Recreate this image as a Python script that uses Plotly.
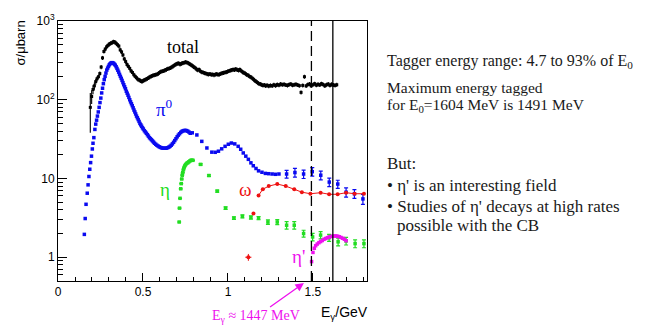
import plotly.graph_objects as go

# ---------------- data (E in GeV, cross sections in microbarn) ----------------
pi0_E = [0.155, 0.160, 0.165, 0.172, 0.177, 0.182, 0.187, 0.192, 0.197, 0.202,
         0.206, 0.211, 0.217, 0.222, 0.227, 0.232, 0.237, 0.242, 0.247, 0.252,
         0.257, 0.262, 0.267, 0.272, 0.277, 0.282, 0.287, 0.292, 0.297, 0.302,
         0.307, 0.312, 0.317, 0.322, 0.327, 0.332, 0.337, 0.342, 0.347, 0.352,
         0.357, 0.362, 0.367, 0.372, 0.377, 0.382, 0.387, 0.392, 0.397, 0.402,
         0.407, 0.412, 0.417, 0.422, 0.427, 0.432, 0.437, 0.442, 0.447, 0.452,
         0.457, 0.462, 0.467, 0.472, 0.477, 0.482, 0.487, 0.492, 0.497, 0.502,
         0.508, 0.514, 0.520, 0.526, 0.532, 0.538, 0.544, 0.550, 0.556, 0.562,
         0.568, 0.575, 0.582, 0.589, 0.596, 0.603, 0.610, 0.617, 0.624, 0.631,
         0.638, 0.645, 0.652, 0.659, 0.666, 0.673, 0.680, 0.687, 0.694, 0.701,
         0.708, 0.715, 0.722, 0.729, 0.736, 0.743, 0.750, 0.757, 0.764, 0.771,
         0.778, 0.790, 0.817, 0.846, 0.876, 0.905, 0.925, 0.944, 0.963, 0.983,
         1.002, 1.020, 1.040, 1.060, 1.075, 1.090, 1.105, 1.120, 1.135, 1.149,
         1.165, 1.180, 1.200, 1.220, 1.240, 1.260, 1.280, 1.300]
pi0_sig = [1.95, 3.1, 4.7, 6.5, 8.3, 10.6, 13.1, 15.9, 19.2, 23.7,
           28.0, 33.0, 42.0, 49.0, 55.0, 62.0, 70.0, 80.0, 92.0, 105.0,
           122.0, 140.0, 160.0, 180.0, 198.0, 218.0, 238.0, 252.0, 265.0, 278.0,
           287.0, 293.0, 296.0, 294.0, 290.0, 283.0, 275.0, 263.0, 250.0, 237.0,
           224.0, 210.0, 198.0, 187.0, 176.0, 165.0, 155.0, 146.0, 138.0, 128.0,
           121.0, 114.0, 107.0, 100.0, 94.0, 89.0, 84.0, 79.0, 74.0, 70.0,
           66.0, 62.0, 59.0, 56.0, 53.0, 50.0, 48.0, 46.0, 44.0, 42.5,
           40.5, 39.0, 37.5, 36.0, 34.5, 33.0, 32.0, 31.0, 30.0, 29.0,
           28.0, 27.2, 26.4, 25.8, 25.2, 24.8, 24.5, 24.3, 24.2, 24.2,
           24.3, 24.6, 25.0, 25.6, 26.4, 27.5, 28.8, 30.3, 32.0, 33.8,
           35.5, 37.0, 38.5, 39.6, 40.3, 40.7, 40.8, 40.5, 39.8, 38.8,
           37.5, 38.0, 35.7, 29.6, 24.4, 21.6, 21.5, 22.2, 23.8, 25.6,
           27.2, 28.2, 27.5, 25.6, 23.5, 21.1, 19.2, 17.5, 15.8, 14.5,
           13.4, 12.5, 12.0, 11.6, 11.5, 11.4, 11.3, 11.4]

pi0_hi_E = [1.345, 1.394, 1.445, 1.496, 1.546, 1.596, 1.646, 1.695, 1.744, 1.794]
pi0_hi_sig = [11.4, 11.9, 11.4, 12.2, 11.0, 9.0, 8.5, 6.7, 6.4, 5.5]
pi0_hi_err = [1.3, 1.5, 1.4, 1.5, 1.4, 1.1, 1.0, 0.9, 0.8, 0.8]

tot_low_E = [0.190, 0.198, 0.206, 0.214, 0.222, 0.230]
tot_low_sig = [80.0, 110.0, 135.0, 150.0, 170.0, 185.0]
tot_low_err = [42.0, 22.0, 18.0, 16.0, 15.0, 14.0]

tot_E = [0.238, 0.246, 0.254, 0.262, 0.270, 0.278, 0.286, 0.294, 0.302, 0.310,
         0.318, 0.326, 0.334, 0.342, 0.350, 0.358, 0.366, 0.374, 0.382, 0.390,
         0.398, 0.406, 0.414, 0.422, 0.430, 0.438, 0.446, 0.454, 0.462, 0.470,
         0.478, 0.486, 0.494, 0.502, 0.510, 0.518, 0.526, 0.534, 0.542, 0.550,
         0.558, 0.566, 0.574, 0.582, 0.590, 0.598, 0.606, 0.614, 0.622, 0.630,
         0.638, 0.646, 0.654, 0.662, 0.670, 0.678, 0.686, 0.694, 0.702, 0.710,
         0.718, 0.726, 0.734, 0.742, 0.750, 0.758, 0.766, 0.774, 0.782, 0.790,
         0.798, 0.806, 0.814, 0.822, 0.830, 0.838, 0.846, 0.854, 0.862, 0.870,
         0.878, 0.886, 0.894, 0.902, 0.910, 0.918, 0.926, 0.934, 0.942, 0.950,
         0.958, 0.966, 0.974, 0.982, 0.990, 0.998, 1.006, 1.014, 1.022, 1.030,
         1.038, 1.046, 1.054, 1.062, 1.070, 1.078, 1.086, 1.094, 1.102, 1.110,
         1.118, 1.126, 1.134, 1.142, 1.150, 1.158, 1.166, 1.174, 1.182, 1.190,
         1.198, 1.206, 1.214, 1.222, 1.230, 1.240, 1.250, 1.260, 1.270, 1.280,
         1.290, 1.300, 1.310, 1.320, 1.330, 1.340, 1.350, 1.360, 1.370, 1.380,
         1.390, 1.400, 1.410, 1.420, 1.430, 1.440, 1.450, 1.460, 1.470, 1.480,
         1.490, 1.500, 1.510, 1.520, 1.530, 1.540, 1.550, 1.560, 1.570, 1.580,
         1.590, 1.600, 1.610, 1.620, 1.630, 1.640]
tot_sig = [196, 215, 260, 340, 410, 440, 470, 490, 510, 520,
           530, 545, 540, 520, 500, 480, 430, 405, 370, 330,
           305, 280, 265, 250, 232, 222, 208, 198, 190, 182,
           178, 174, 170, 175, 178, 182, 186, 190, 196, 199,
           203, 206, 208, 210, 215, 222, 228, 230, 232, 238,
           242, 247, 250, 254, 260, 268, 275, 282, 288, 290,
           282, 288, 292, 296, 300, 298, 292, 285, 278, 270,
           262, 255, 245, 238, 242, 230, 225, 222, 218, 216,
           212, 210, 213, 208, 210, 206, 210, 212, 208, 210,
           214, 218, 220, 222, 225, 228, 232, 236, 238, 242,
           240, 245, 240, 236, 242, 232, 225, 220, 215, 208,
           205, 198, 195, 188, 182, 175, 170, 165, 160, 158,
           155, 152, 154, 150, 153, 149, 152, 150, 155, 151,
           156, 153, 158, 155, 157, 154, 152, 156, 158, 153,
           155, 157, 154, 151, 124, 152, 196, 150, 156, 158,
           150, 155, 160, 153, 157, 154, 160, 156, 150, 155,
           158, 152, 157, 154, 152, 155]

eta_E = [0.713, 0.715, 0.718, 0.722, 0.725, 0.728, 0.731, 0.734, 0.738, 0.742,
         0.747, 0.752, 0.758, 0.764, 0.770, 0.776, 0.782, 0.788, 0.794, 0.839,
         0.888, 0.937, 0.986, 1.035, 1.085, 1.135, 1.180, 1.235, 1.290, 1.345,
         1.390, 1.445, 1.498, 1.545, 1.595, 1.648, 1.695, 1.748, 1.800]
eta_sig = [2.8, 4.2, 5.6, 7.4, 8.6, 9.85, 11.0, 11.9, 12.9, 13.8,
           14.6, 15.1, 15.6, 15.9, 16.3, 16.7, 17.0, 17.1, 17.0, 15.1,
           10.9, 6.9, 4.2, 3.14, 3.3, 3.2, 3.14, 2.8, 2.8, 2.55,
           2.55, 2.0, 1.81, 1.91, 1.77, 1.57, 1.61, 1.49, 1.49]
eta_err = [0, 0, 0, 0, 0, 0, 0, 0, 0, 0,
           0, 0, 0, 0, 0, 0, 0, 0, 0, 0.3,
           0.25, 0.2, 0.15, 0.12, 0.15, 0.15, 0.15, 0.18, 0.2, 0.28,
           0.28, 0.2, 0.2, 0.2, 0.18, 0.18, 0.18, 0.17, 0.17]

omega_E = [1.120, 1.150, 1.180, 1.205, 1.240, 1.290, 1.340, 1.390, 1.435, 1.485,
           1.545, 1.595, 1.645, 1.695, 1.745, 1.800]
omega_sig = [1.0, 3.6, 6.1, 7.3, 8.0, 8.5, 8.0, 7.3, 6.7, 6.4,
             6.6, 6.3, 6.3, 6.6, 6.4, 6.4]

etap_E = [1.492, 1.500, 1.508, 1.516, 1.525, 1.535, 1.545, 1.555, 1.565, 1.575,
          1.585, 1.595, 1.605, 1.615, 1.625, 1.635, 1.645, 1.655, 1.665, 1.675,
          1.685, 1.695]
etap_sig = [0.88, 1.15, 1.30, 1.40, 1.47, 1.53, 1.58, 1.63, 1.69, 1.73,
            1.77, 1.81, 1.83, 1.85, 1.86, 1.86, 1.85, 1.82, 1.78, 1.74,
            1.69, 1.62]

E_max_tagged = 1.491   # GeV
E_zero = 1.617         # GeV
E_arrow = 1.447        # GeV

# ---------------- colours / fonts ----------------
BLUE = "#0a0af0"
GREEN = "#22dd22"
RED = "#ee1111"
MAGENTA = "#ee11ee"
SERIF = "Liberation Serif"
SANS = "Liberation Sans"

# plot-frame pixels in the 647x333 canvas
L, R, T, B = 58, 367, 15, 281


def px(x):
    return (x - L) / (R - L)


def py(y):
    return (B - y) / (B - T)


fig = go.Figure()

# total cross section
fig.add_trace(go.Scatter(
    x=tot_low_E, y=tot_low_sig, mode="markers",
    marker=dict(symbol="square", size=3, color="black"),
    error_y=dict(type="data", array=tot_low_err, color="black", thickness=1.1, width=0),
    error_x=dict(type="constant", value=0.006, color="black", thickness=1.1, width=0),
    showlegend=False))
fig.add_trace(go.Scatter(
    x=tot_E, y=tot_sig, mode="markers",
    marker=dict(symbol="square", size=3, color="black"),
    error_y=dict(type="percent", value=6, color="black", thickness=1.1, width=0),
    error_x=dict(type="constant", value=0.005, color="black", thickness=1.1, width=0),
    showlegend=False))

# pi0
fig.add_trace(go.Scatter(
    x=pi0_E, y=pi0_sig, mode="markers",
    marker=dict(symbol="square", size=3.5, color=BLUE),
    showlegend=False))
fig.add_trace(go.Scatter(
    x=pi0_hi_E, y=pi0_hi_sig, mode="markers",
    marker=dict(symbol="square", size=3.5, color=BLUE),
    error_y=dict(type="data", array=pi0_hi_err, color=BLUE, thickness=1.2, width=2),
    showlegend=False))

# eta
fig.add_trace(go.Scatter(
    x=eta_E, y=eta_sig, mode="markers",
    marker=dict(symbol="square", size=3.5, color=GREEN),
    error_y=dict(type="data", array=eta_err, color=GREEN, thickness=1.2, width=2),
    showlegend=False))

# omega
fig.add_trace(go.Scatter(
    x=omega_E[:2], y=omega_sig[:2], mode="markers",
    marker=dict(symbol="circle", size=4, color=RED),
    error_y=dict(type="data", array=[0.1, 0], color=RED, thickness=1, width=0),
    error_x=dict(type="data", array=[0.018, 0], color=RED, thickness=1, width=0),
    showlegend=False))
fig.add_trace(go.Scatter(
    x=omega_E[2:], y=omega_sig[2:], mode="lines+markers",
    line=dict(color=RED, width=1),
    marker=dict(symbol="circle", size=4, color=RED),
    showlegend=False))

# eta prime
fig.add_trace(go.Scatter(
    x=etap_E, y=etap_sig, mode="markers",
    marker=dict(symbol="square", size=3.5, color=MAGENTA),
    showlegend=False))

# beam-energy markers
fig.add_shape(type="line", xref="x", yref="paper", x0=E_max_tagged, x1=E_max_tagged,
              y0=0, y1=1, line=dict(color="black", width=1.3, dash="10px,5px"))
fig.add_shape(type="line", xref="x", yref="paper", x0=E_zero, x1=E_zero,
              y0=0, y1=1, line=dict(color="black", width=1.3))

ann = []
# curve labels
ann.append(dict(text="total", x=px(183), y=py(42), font=dict(family=SERIF, size=18, color="black")))
ann.append(dict(text="π<sup>0</sup>", x=px(164), y=py(104), font=dict(family=SERIF, size=19, color=BLUE)))
ann.append(dict(text="η", x=px(165), y=py(187), font=dict(family=SERIF, size=19, color=GREEN)))
ann.append(dict(text="ω", x=px(245), y=py(187), font=dict(family=SERIF, size=19, color=RED)))
ann.append(dict(text="η'", x=px(298), y=py(256), font=dict(family=SERIF, size=19, color=MAGENTA)))

# axis titles
ann.append(dict(text="σ/μbarn", x=px(20), y=py(38), textangle=-90,
                font=dict(family=SANS, size=13, color="black")))
ann.append(dict(text="E<sub>γ</sub>/GeV", x=px(344), y=py(314),
                font=dict(family=SANS, size=14, color="black")))

# side notes
notes = [
    ("Tagger energy range: 4.7 to 93% of E<sub>0</sub>", 385, 56, 16),
    ("Maximum energy tagged", 385, 83, 15.5),
    ("for E<sub>0</sub>=1604 MeV is 1491 MeV", 385, 101, 15.5),
    ("But:", 385, 161, 17),
    ("• η' is an interesting field", 385, 183, 17),
    ("• Studies of η' decays at high rates", 385, 205, 17),
    ("possible with the CB", 395, 224, 17),
]
for txt, xx, yy, fs in notes:
    ann.append(dict(text=txt, x=px(xx), y=py(yy), xanchor="left",
                    font=dict(family=SERIF, size=fs, color="#1a1a1a")))

for a in ann:
    a.setdefault("xref", "paper")
    a.setdefault("yref", "paper")
    a.setdefault("xanchor", "center")
    a.setdefault("yanchor", "middle")
    a.setdefault("showarrow", False)
    fig.add_annotation(**a)

# arrow to E_gamma
fig.add_annotation(text="E<sub>γ</sub> ≈ 1447 MeV", xref="x", yref="paper",
                   x=E_arrow, y=py(283), ax=-48, ay=34,
                   showarrow=True, arrowhead=2, arrowsize=1.3, arrowwidth=1.3,
                   arrowcolor=MAGENTA,
                   font=dict(family=SERIF, size=14, color=MAGENTA))

minor_y = [v * d for d in (0.1, 1, 10, 100) for v in range(2, 10)]
minor_y = [v for v in minor_y if 0.5 <= v < 1000]

fig.update_layout(
    width=647, height=333, autosize=False,
    margin=dict(l=L, r=647 - R, t=T, b=333 - B),
    paper_bgcolor="white", plot_bgcolor="white",
    font=dict(family=SANS, size=12, color="black"),
    xaxis=dict(range=[0, 1.818], tick0=0, dtick=0.5, ticks="inside", ticklen=8,
               tickcolor="black", showline=True, linecolor="black", linewidth=1,
               mirror=True, showgrid=False, zeroline=False,
               tickfont=dict(family=SANS, size=12, color="black"),
               minor=dict(dtick=0.1, tick0=0, ticks="inside", ticklen=4,
                          tickcolor="black", showgrid=False)),
    yaxis=dict(type="log", range=[-0.302, 3], tickmode="array",
               tickvals=[1, 10, 100, 1000],
               ticktext=["1", "10", "10<sup>2</sup>", "10<sup>3</sup>"],
               ticks="inside", ticklen=9, tickcolor="black",
               showline=True, linecolor="black", linewidth=1, mirror=True,
               showgrid=False, zeroline=False,
               tickfont=dict(family=SANS, size=12, color="black"),
               minor=dict(tickmode="array", tickvals=minor_y, ticks="inside",
                          ticklen=5, tickcolor="black", showgrid=False)),
)

fig.write_html("out.html")
